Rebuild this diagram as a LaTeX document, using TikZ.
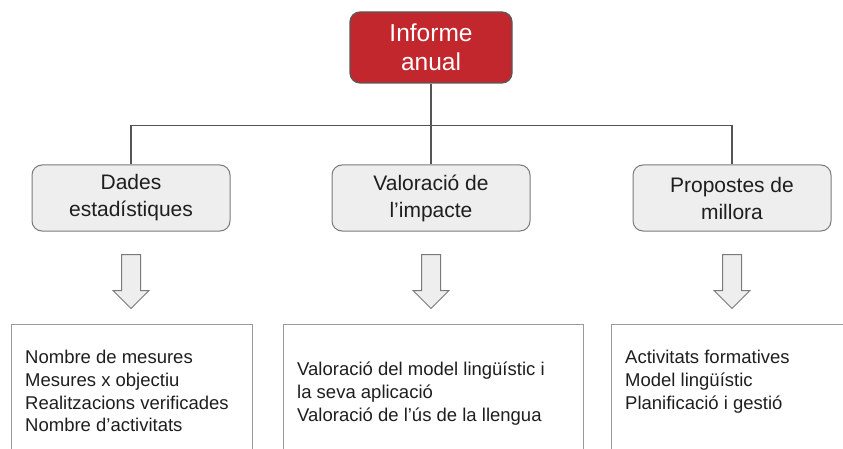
\documentclass[tikz,border=0pt]{standalone}
\usepackage{fontspec}
\setmainfont{Liberation Sans}
\usetikzlibrary{positioning}
\definecolor{informered}{HTML}{C1272D}
\definecolor{topborder}{HTML}{5A5A5A}
\definecolor{areafill}{HTML}{EEEEEE}
\definecolor{areaborder}{HTML}{7A7A7A}
\definecolor{listborder}{HTML}{9A9A9A}
\definecolor{linkgray}{HTML}{555555}
\definecolor{textdark}{HTML}{1E1E1E}

\begin{document}
\begin{tikzpicture}[
    x=1pt, y=1pt,
    every node/.append style={inner sep=0pt},
    topbox/.style={draw=topborder, fill=informered, text=white, rounded corners=10pt,
      line width=1.2pt, minimum width=162pt, minimum height=71pt, align=center,
      font=\fontsize{24.5}{29}\selectfont},
    areabox/.style={draw=areaborder, fill=areafill, rounded corners=10pt, line width=1pt,
      minimum width=198pt, minimum height=66pt, align=center, text=textdark,
      font=\fontsize{21}{27}\selectfont},
    listbox/.style={draw=listborder, line width=1pt, anchor=north west, minimum height=140pt},
    listtext/.style={anchor=north west, align=left, text=textdark,
      font=\fontsize{18.5}{22.7}\selectfont},
    link/.style={draw=linkgray, line width=1.2pt},
    downarrow/.pic={
      \draw[draw=areaborder, fill=areafill, line width=1pt]
        (-9.5,0) -- (-9.5,-36) -- (-18,-36) -- (0,-54) -- (18,-36) -- (9.5,-36) -- (9.5,0) -- cycle;
    }
  ]
  \clip (0,0) rectangle (843,-449);

  % title and the three areas
  \node[topbox] (informe) at (431,-47.5) {Informe\\anual};
  \node[areabox] (dades) at (131,-198) {Dades\\estadístiques};
  \node[areabox] (valoracio) at (431,-198) {Valoració de\\l’impacte};
  \node[areabox] (propostes) at (732,-198) {Propostes de\\millora};

  \coordinate (bus) at ([yshift=-42pt]informe.south);
  \draw[link] (informe.south) -- (bus);
  \draw[link] (dades.north) |- (bus) -| (propostes.north);
  \draw[link] (bus) -- (valoracio.north);

  % block arrows
  \path (dades.south) ++(0,-23) pic {downarrow};
  \path (valoracio.south) ++(0,-23) pic {downarrow};
  \path (propostes.south) ++(0,-23) pic {downarrow};

  % lists
  \node[listbox, minimum width=241pt] (llistadades) at (11,-324) {};
  \node[listbox, minimum width=300pt] (llistavaloracio) at (283,-324) {};
  \node[listbox, minimum width=260pt] (llistapropostes) at (611,-324) {};

  \node[listtext] at ([xshift=14pt,yshift=-26pt]llistadades.north west)
    {Nombre de mesures\\Mesures x objectiu\\Realitzacions verificades\\Nombre d’activitats};
  \node[listtext] at ([xshift=14pt,yshift=-38pt]llistavaloracio.north west)
    {Valoració del model lingüístic i\\la seva aplicació\\Valoració de l’ús de la llengua};
  \node[listtext] at ([xshift=14pt,yshift=-26pt]llistapropostes.north west)
    {Activitats formatives\\Model lingüístic\\Planificació i gestió};
\end{tikzpicture}
\end{document}
